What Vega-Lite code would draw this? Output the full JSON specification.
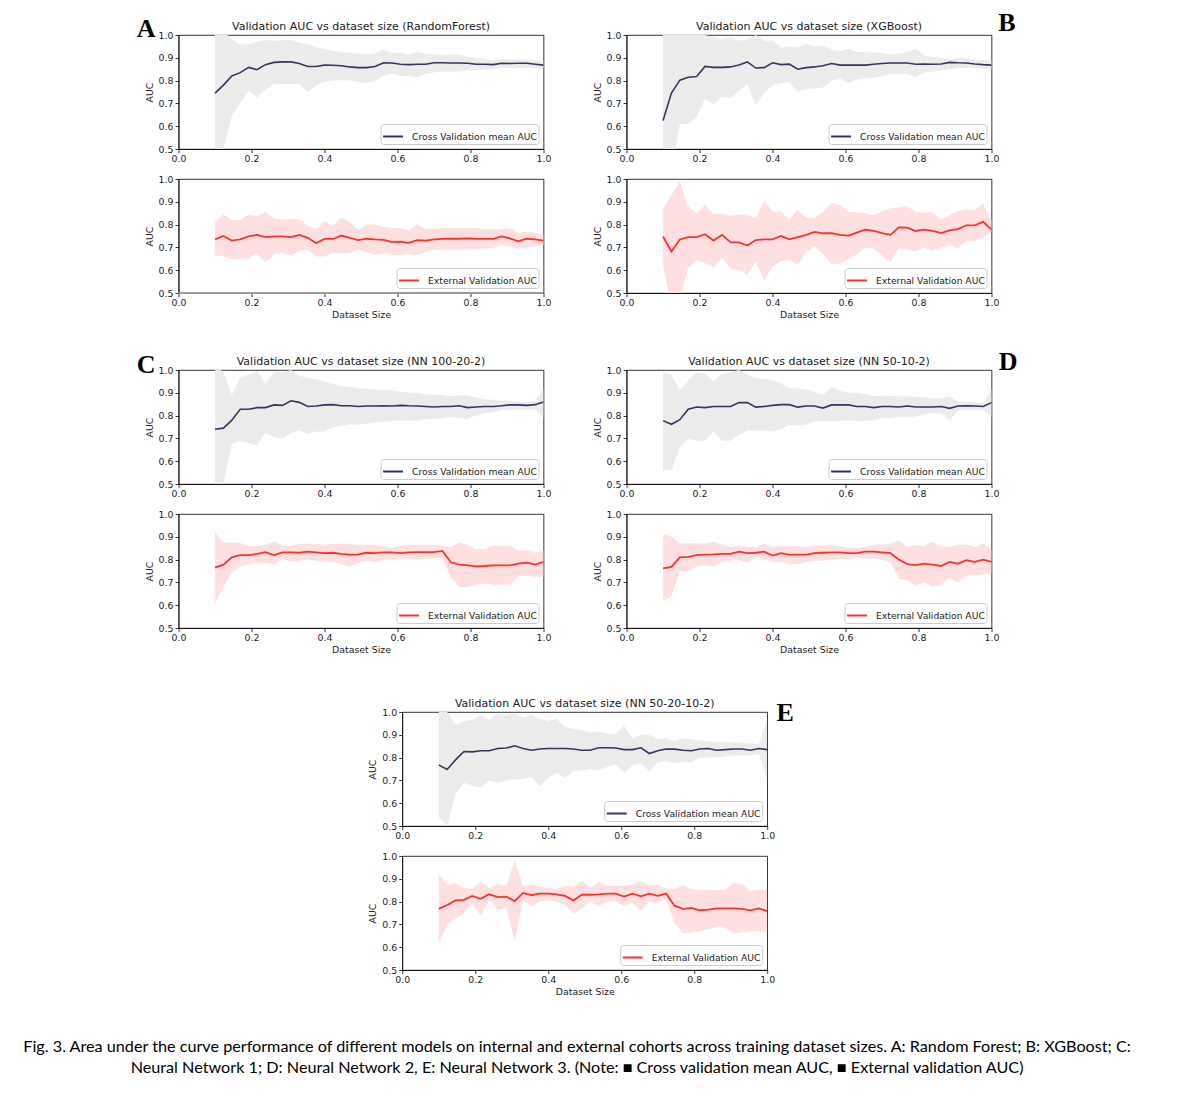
{
"$schema":"https://vega.github.io/schema/vega-lite/v6.json",
"padding":{"left":21.5,"top":10,"right":5,"bottom":5},
"background":"white",
"datasets":{"d":[
{"p":"Ac","x":0.1,"m":0.745,"l":0.38,"h":1.1},{"p":"Ac","x":0.123,"m":0.78,"l":0.5,"h":1.02},{"p":"Ac","x":0.146,"m":0.82,"l":0.645,"h":0.98},{"p":"Ac","x":0.169,"m":0.835,"l":0.7,"h":0.958},{"p":"Ac","x":0.192,"m":0.858,"l":0.755,"h":0.96},{"p":"Ac","x":0.215,"m":0.848,"l":0.725,"h":0.97},{"p":"Ac","x":0.238,"m":0.87,"l":0.76,"h":0.978},{"p":"Ac","x":0.262,"m":0.88,"l":0.785,"h":0.975},{"p":"Ac","x":0.285,"m":0.882,"l":0.785,"h":0.978},{"p":"Ac","x":0.308,"m":0.882,"l":0.785,"h":0.978},
{"p":"Ac","x":0.331,"m":0.875,"l":0.785,"h":0.965},{"p":"Ac","x":0.354,"m":0.862,"l":0.75,"h":0.96},{"p":"Ac","x":0.377,"m":0.862,"l":0.78,"h":0.945},{"p":"Ac","x":0.4,"m":0.868,"l":0.795,"h":0.94},{"p":"Ac","x":0.423,"m":0.867,"l":0.8,"h":0.93},{"p":"Ac","x":0.446,"m":0.865,"l":0.802,"h":0.925},{"p":"Ac","x":0.469,"m":0.86,"l":0.8,"h":0.92},{"p":"Ac","x":0.492,"m":0.857,"l":0.795,"h":0.918},{"p":"Ac","x":0.515,"m":0.857,"l":0.79,"h":0.915},{"p":"Ac","x":0.538,"m":0.862,"l":0.8,"h":0.92},
{"p":"Ac","x":0.562,"m":0.878,"l":0.82,"h":0.935},{"p":"Ac","x":0.585,"m":0.877,"l":0.83,"h":0.92},{"p":"Ac","x":0.608,"m":0.872,"l":0.82,"h":0.922},{"p":"Ac","x":0.631,"m":0.87,"l":0.82,"h":0.915},{"p":"Ac","x":0.654,"m":0.872,"l":0.815,"h":0.925},{"p":"Ac","x":0.677,"m":0.872,"l":0.83,"h":0.918},{"p":"Ac","x":0.7,"m":0.878,"l":0.835,"h":0.915},{"p":"Ac","x":0.723,"m":0.878,"l":0.84,"h":0.912},{"p":"Ac","x":0.746,"m":0.877,"l":0.84,"h":0.915},{"p":"Ac","x":0.769,"m":0.877,"l":0.84,"h":0.915},
{"p":"Ac","x":0.792,"m":0.876,"l":0.845,"h":0.905},{"p":"Ac","x":0.815,"m":0.872,"l":0.845,"h":0.9},{"p":"Ac","x":0.838,"m":0.872,"l":0.848,"h":0.895},{"p":"Ac","x":0.862,"m":0.87,"l":0.85,"h":0.89},{"p":"Ac","x":0.885,"m":0.876,"l":0.855,"h":0.895},{"p":"Ac","x":0.908,"m":0.875,"l":0.855,"h":0.893},{"p":"Ac","x":0.931,"m":0.876,"l":0.855,"h":0.893},{"p":"Ac","x":0.954,"m":0.876,"l":0.855,"h":0.89},{"p":"Ac","x":0.977,"m":0.872,"l":0.855,"h":0.888},{"p":"Ac","x":1,"m":0.868,"l":0.852,"h":0.885},

{"p":"Ae","x":0.1,"m":0.735,"l":0.665,"h":0.81},{"p":"Ae","x":0.123,"m":0.75,"l":0.66,"h":0.845},{"p":"Ae","x":0.146,"m":0.73,"l":0.648,"h":0.82},{"p":"Ae","x":0.169,"m":0.735,"l":0.65,"h":0.82},{"p":"Ae","x":0.192,"m":0.748,"l":0.652,"h":0.845},{"p":"Ae","x":0.215,"m":0.755,"l":0.675,"h":0.835},{"p":"Ae","x":0.238,"m":0.745,"l":0.632,"h":0.855},{"p":"Ae","x":0.262,"m":0.748,"l":0.672,"h":0.825},{"p":"Ae","x":0.285,"m":0.748,"l":0.675,"h":0.822},{"p":"Ae","x":0.308,"m":0.745,"l":0.665,"h":0.825},
{"p":"Ae","x":0.331,"m":0.755,"l":0.685,"h":0.825},{"p":"Ae","x":0.354,"m":0.742,"l":0.688,"h":0.795},{"p":"Ae","x":0.377,"m":0.718,"l":0.66,"h":0.78},{"p":"Ae","x":0.4,"m":0.737,"l":0.66,"h":0.815},{"p":"Ae","x":0.423,"m":0.737,"l":0.678,"h":0.795},{"p":"Ae","x":0.446,"m":0.752,"l":0.672,"h":0.83},{"p":"Ae","x":0.469,"m":0.742,"l":0.675,"h":0.81},{"p":"Ae","x":0.492,"m":0.732,"l":0.69,"h":0.775},{"p":"Ae","x":0.515,"m":0.738,"l":0.68,"h":0.8},{"p":"Ae","x":0.538,"m":0.735,"l":0.668,"h":0.8},
{"p":"Ae","x":0.562,"m":0.733,"l":0.672,"h":0.79},{"p":"Ae","x":0.585,"m":0.723,"l":0.667,"h":0.785},{"p":"Ae","x":0.608,"m":0.725,"l":0.665,"h":0.783},{"p":"Ae","x":0.631,"m":0.72,"l":0.67,"h":0.775},{"p":"Ae","x":0.654,"m":0.732,"l":0.665,"h":0.8},{"p":"Ae","x":0.677,"m":0.73,"l":0.68,"h":0.78},{"p":"Ae","x":0.7,"m":0.735,"l":0.69,"h":0.782},{"p":"Ae","x":0.723,"m":0.737,"l":0.69,"h":0.785},{"p":"Ae","x":0.746,"m":0.738,"l":0.69,"h":0.785},{"p":"Ae","x":0.769,"m":0.738,"l":0.69,"h":0.785},
{"p":"Ae","x":0.792,"m":0.74,"l":0.69,"h":0.785},{"p":"Ae","x":0.815,"m":0.738,"l":0.692,"h":0.785},{"p":"Ae","x":0.838,"m":0.737,"l":0.695,"h":0.778},{"p":"Ae","x":0.862,"m":0.737,"l":0.697,"h":0.78},{"p":"Ae","x":0.885,"m":0.748,"l":0.712,"h":0.78},{"p":"Ae","x":0.908,"m":0.74,"l":0.703,"h":0.785},{"p":"Ae","x":0.931,"m":0.727,"l":0.693,"h":0.762},{"p":"Ae","x":0.954,"m":0.738,"l":0.702,"h":0.77},{"p":"Ae","x":0.977,"m":0.735,"l":0.705,"h":0.765},{"p":"Ae","x":1,"m":0.73,"l":0.71,"h":0.755},

{"p":"Bc","x":0.1,"m":0.625,"l":0.3,"h":1.1},{"p":"Bc","x":0.123,"m":0.745,"l":0.4,"h":1.05},{"p":"Bc","x":0.146,"m":0.802,"l":0.61,"h":1.02},{"p":"Bc","x":0.169,"m":0.815,"l":0.61,"h":1.0},{"p":"Bc","x":0.192,"m":0.818,"l":0.64,"h":1.0},{"p":"Bc","x":0.215,"m":0.862,"l":0.72,"h":1.0},{"p":"Bc","x":0.238,"m":0.858,"l":0.695,"h":0.99},{"p":"Bc","x":0.262,"m":0.858,"l":0.73,"h":0.98},{"p":"Bc","x":0.285,"m":0.86,"l":0.725,"h":0.99},{"p":"Bc","x":0.308,"m":0.868,"l":0.755,"h":0.975},
{"p":"Bc","x":0.331,"m":0.882,"l":0.785,"h":0.98},{"p":"Bc","x":0.354,"m":0.855,"l":0.69,"h":1.0},{"p":"Bc","x":0.377,"m":0.857,"l":0.745,"h":0.975},{"p":"Bc","x":0.4,"m":0.878,"l":0.78,"h":0.975},{"p":"Bc","x":0.423,"m":0.87,"l":0.79,"h":0.945},{"p":"Bc","x":0.446,"m":0.872,"l":0.795,"h":0.95},{"p":"Bc","x":0.469,"m":0.85,"l":0.75,"h":0.945},{"p":"Bc","x":0.492,"m":0.857,"l":0.765,"h":0.96},{"p":"Bc","x":0.515,"m":0.86,"l":0.765,"h":0.95},{"p":"Bc","x":0.538,"m":0.865,"l":0.77,"h":0.955},
{"p":"Bc","x":0.562,"m":0.875,"l":0.8,"h":0.935},{"p":"Bc","x":0.585,"m":0.868,"l":0.81,"h":0.93},{"p":"Bc","x":0.608,"m":0.868,"l":0.79,"h":0.94},{"p":"Bc","x":0.631,"m":0.868,"l":0.805,"h":0.925},{"p":"Bc","x":0.654,"m":0.868,"l":0.81,"h":0.925},{"p":"Bc","x":0.677,"m":0.872,"l":0.812,"h":0.922},{"p":"Bc","x":0.7,"m":0.875,"l":0.82,"h":0.922},{"p":"Bc","x":0.723,"m":0.877,"l":0.83,"h":0.915},{"p":"Bc","x":0.746,"m":0.877,"l":0.83,"h":0.92},{"p":"Bc","x":0.769,"m":0.877,"l":0.83,"h":0.925},
{"p":"Bc","x":0.792,"m":0.872,"l":0.815,"h":0.94},{"p":"Bc","x":0.815,"m":0.873,"l":0.835,"h":0.91},{"p":"Bc","x":0.838,"m":0.872,"l":0.84,"h":0.905},{"p":"Bc","x":0.862,"m":0.873,"l":0.845,"h":0.9},{"p":"Bc","x":0.885,"m":0.88,"l":0.85,"h":0.895},{"p":"Bc","x":0.908,"m":0.878,"l":0.855,"h":0.9},{"p":"Bc","x":0.931,"m":0.877,"l":0.855,"h":0.897},{"p":"Bc","x":0.954,"m":0.873,"l":0.855,"h":0.892},{"p":"Bc","x":0.977,"m":0.87,"l":0.852,"h":0.89},{"p":"Bc","x":1,"m":0.868,"l":0.848,"h":0.888},

{"p":"Be","x":0.1,"m":0.748,"l":0.62,"h":0.87},{"p":"Be","x":0.123,"m":0.682,"l":0.45,"h":0.93},{"p":"Be","x":0.146,"m":0.735,"l":0.48,"h":0.99},{"p":"Be","x":0.169,"m":0.745,"l":0.61,"h":0.88},{"p":"Be","x":0.192,"m":0.745,"l":0.645,"h":0.85},{"p":"Be","x":0.215,"m":0.758,"l":0.63,"h":0.885},{"p":"Be","x":0.238,"m":0.73,"l":0.612,"h":0.845},{"p":"Be","x":0.262,"m":0.755,"l":0.655,"h":0.848},{"p":"Be","x":0.285,"m":0.722,"l":0.605,"h":0.838},{"p":"Be","x":0.308,"m":0.722,"l":0.6,"h":0.845},
{"p":"Be","x":0.331,"m":0.708,"l":0.58,"h":0.84},{"p":"Be","x":0.354,"m":0.732,"l":0.638,"h":0.83},{"p":"Be","x":0.377,"m":0.735,"l":0.555,"h":0.905},{"p":"Be","x":0.4,"m":0.735,"l":0.615,"h":0.857},{"p":"Be","x":0.423,"m":0.75,"l":0.64,"h":0.857},{"p":"Be","x":0.446,"m":0.735,"l":0.645,"h":0.823},{"p":"Be","x":0.469,"m":0.745,"l":0.625,"h":0.865},{"p":"Be","x":0.492,"m":0.755,"l":0.68,"h":0.83},{"p":"Be","x":0.515,"m":0.768,"l":0.705,"h":0.83},{"p":"Be","x":0.538,"m":0.762,"l":0.67,"h":0.855},
{"p":"Be","x":0.562,"m":0.763,"l":0.628,"h":0.895},{"p":"Be","x":0.585,"m":0.755,"l":0.628,"h":0.885},{"p":"Be","x":0.608,"m":0.752,"l":0.648,"h":0.855},{"p":"Be","x":0.631,"m":0.765,"l":0.67,"h":0.853},{"p":"Be","x":0.654,"m":0.778,"l":0.7,"h":0.85},{"p":"Be","x":0.677,"m":0.772,"l":0.695,"h":0.84},{"p":"Be","x":0.7,"m":0.763,"l":0.665,"h":0.86},{"p":"Be","x":0.723,"m":0.755,"l":0.635,"h":0.872},{"p":"Be","x":0.746,"m":0.788,"l":0.695,"h":0.875},{"p":"Be","x":0.769,"m":0.787,"l":0.69,"h":0.88},
{"p":"Be","x":0.792,"m":0.772,"l":0.683,"h":0.858},{"p":"Be","x":0.815,"m":0.778,"l":0.7,"h":0.852},{"p":"Be","x":0.838,"m":0.772,"l":0.686,"h":0.855},{"p":"Be","x":0.862,"m":0.763,"l":0.7,"h":0.823},{"p":"Be","x":0.885,"m":0.775,"l":0.71,"h":0.84},{"p":"Be","x":0.908,"m":0.78,"l":0.695,"h":0.86},{"p":"Be","x":0.931,"m":0.797,"l":0.728,"h":0.865},{"p":"Be","x":0.954,"m":0.797,"l":0.725,"h":0.865},{"p":"Be","x":0.977,"m":0.812,"l":0.745,"h":0.89},{"p":"Be","x":1,"m":0.778,"l":0.77,"h":0.82},

{"p":"Cc","x":0.1,"m":0.74,"l":0.45,"h":1.02},{"p":"Cc","x":0.123,"m":0.745,"l":0.5,"h":0.99},{"p":"Cc","x":0.146,"m":0.78,"l":0.675,"h":0.89},{"p":"Cc","x":0.169,"m":0.828,"l":0.69,"h":0.965},{"p":"Cc","x":0.192,"m":0.828,"l":0.68,"h":0.98},{"p":"Cc","x":0.215,"m":0.835,"l":0.67,"h":0.995},{"p":"Cc","x":0.238,"m":0.835,"l":0.725,"h":0.94},{"p":"Cc","x":0.262,"m":0.847,"l":0.705,"h":0.99},{"p":"Cc","x":0.285,"m":0.845,"l":0.7,"h":0.99},{"p":"Cc","x":0.308,"m":0.865,"l":0.725,"h":1.0},
{"p":"Cc","x":0.331,"m":0.858,"l":0.735,"h":0.975},{"p":"Cc","x":0.354,"m":0.84,"l":0.72,"h":0.965},{"p":"Cc","x":0.377,"m":0.842,"l":0.73,"h":0.96},{"p":"Cc","x":0.4,"m":0.847,"l":0.73,"h":0.95},{"p":"Cc","x":0.423,"m":0.848,"l":0.75,"h":0.94},{"p":"Cc","x":0.446,"m":0.843,"l":0.755,"h":0.93},{"p":"Cc","x":0.469,"m":0.843,"l":0.762,"h":0.925},{"p":"Cc","x":0.492,"m":0.84,"l":0.76,"h":0.92},{"p":"Cc","x":0.515,"m":0.842,"l":0.765,"h":0.918},{"p":"Cc","x":0.538,"m":0.842,"l":0.77,"h":0.915},
{"p":"Cc","x":0.562,"m":0.843,"l":0.772,"h":0.913},{"p":"Cc","x":0.585,"m":0.842,"l":0.775,"h":0.91},{"p":"Cc","x":0.608,"m":0.845,"l":0.78,"h":0.905},{"p":"Cc","x":0.631,"m":0.843,"l":0.775,"h":0.9},{"p":"Cc","x":0.654,"m":0.842,"l":0.78,"h":0.9},{"p":"Cc","x":0.677,"m":0.84,"l":0.785,"h":0.893},{"p":"Cc","x":0.7,"m":0.838,"l":0.785,"h":0.893},{"p":"Cc","x":0.723,"m":0.84,"l":0.79,"h":0.89},{"p":"Cc","x":0.746,"m":0.84,"l":0.795,"h":0.885},{"p":"Cc","x":0.769,"m":0.843,"l":0.788,"h":0.89},
{"p":"Cc","x":0.792,"m":0.835,"l":0.785,"h":0.888},{"p":"Cc","x":0.815,"m":0.838,"l":0.8,"h":0.88},{"p":"Cc","x":0.838,"m":0.84,"l":0.81,"h":0.872},{"p":"Cc","x":0.862,"m":0.84,"l":0.815,"h":0.87},{"p":"Cc","x":0.885,"m":0.843,"l":0.825,"h":0.865},{"p":"Cc","x":0.908,"m":0.847,"l":0.825,"h":0.865},{"p":"Cc","x":0.931,"m":0.847,"l":0.828,"h":0.862},{"p":"Cc","x":0.954,"m":0.845,"l":0.828,"h":0.86},{"p":"Cc","x":0.977,"m":0.848,"l":0.828,"h":0.865},{"p":"Cc","x":1,"m":0.86,"l":0.79,"h":0.915},

{"p":"Ce","x":0.1,"m":0.765,"l":0.61,"h":0.92},{"p":"Ce","x":0.123,"m":0.778,"l":0.68,"h":0.875},{"p":"Ce","x":0.146,"m":0.81,"l":0.745,"h":0.875},{"p":"Ce","x":0.169,"m":0.82,"l":0.77,"h":0.873},{"p":"Ce","x":0.192,"m":0.82,"l":0.78,"h":0.86},{"p":"Ce","x":0.215,"m":0.825,"l":0.785,"h":0.86},{"p":"Ce","x":0.238,"m":0.833,"l":0.785,"h":0.865},{"p":"Ce","x":0.262,"m":0.82,"l":0.78,"h":0.88},{"p":"Ce","x":0.285,"m":0.832,"l":0.805,"h":0.86},{"p":"Ce","x":0.308,"m":0.832,"l":0.79,"h":0.86},
{"p":"Ce","x":0.331,"m":0.83,"l":0.795,"h":0.87},{"p":"Ce","x":0.354,"m":0.835,"l":0.8,"h":0.87},{"p":"Ce","x":0.377,"m":0.832,"l":0.795,"h":0.87},{"p":"Ce","x":0.4,"m":0.828,"l":0.79,"h":0.865},{"p":"Ce","x":0.423,"m":0.83,"l":0.79,"h":0.87},{"p":"Ce","x":0.446,"m":0.825,"l":0.78,"h":0.87},{"p":"Ce","x":0.469,"m":0.822,"l":0.77,"h":0.87},{"p":"Ce","x":0.492,"m":0.823,"l":0.785,"h":0.865},{"p":"Ce","x":0.515,"m":0.83,"l":0.795,"h":0.865},{"p":"Ce","x":0.538,"m":0.828,"l":0.79,"h":0.865},
{"p":"Ce","x":0.562,"m":0.832,"l":0.8,"h":0.86},{"p":"Ce","x":0.585,"m":0.832,"l":0.8,"h":0.85},{"p":"Ce","x":0.608,"m":0.828,"l":0.805,"h":0.862},{"p":"Ce","x":0.631,"m":0.832,"l":0.805,"h":0.865},{"p":"Ce","x":0.654,"m":0.833,"l":0.8,"h":0.865},{"p":"Ce","x":0.677,"m":0.833,"l":0.805,"h":0.865},{"p":"Ce","x":0.7,"m":0.833,"l":0.805,"h":0.865},{"p":"Ce","x":0.723,"m":0.838,"l":0.81,"h":0.862},{"p":"Ce","x":0.746,"m":0.788,"l":0.72,"h":0.855},{"p":"Ce","x":0.769,"m":0.778,"l":0.68,"h":0.875},
{"p":"Ce","x":0.792,"m":0.775,"l":0.68,"h":0.865},{"p":"Ce","x":0.815,"m":0.77,"l":0.69,"h":0.845},{"p":"Ce","x":0.838,"m":0.772,"l":0.695,"h":0.845},{"p":"Ce","x":0.862,"m":0.775,"l":0.69,"h":0.862},{"p":"Ce","x":0.885,"m":0.775,"l":0.69,"h":0.86},{"p":"Ce","x":0.908,"m":0.775,"l":0.69,"h":0.862},{"p":"Ce","x":0.931,"m":0.782,"l":0.725,"h":0.84},{"p":"Ce","x":0.954,"m":0.787,"l":0.73,"h":0.84},{"p":"Ce","x":0.977,"m":0.778,"l":0.725,"h":0.83},{"p":"Ce","x":1,"m":0.79,"l":0.725,"h":0.84},

{"p":"Dc","x":0.1,"m":0.778,"l":0.56,"h":0.99},{"p":"Dc","x":0.123,"m":0.762,"l":0.56,"h":0.98},{"p":"Dc","x":0.146,"m":0.782,"l":0.66,"h":0.91},{"p":"Dc","x":0.169,"m":0.828,"l":0.7,"h":0.955},{"p":"Dc","x":0.192,"m":0.838,"l":0.69,"h":0.99},{"p":"Dc","x":0.215,"m":0.835,"l":0.69,"h":0.985},{"p":"Dc","x":0.238,"m":0.84,"l":0.73,"h":0.95},{"p":"Dc","x":0.262,"m":0.84,"l":0.69,"h":0.985},{"p":"Dc","x":0.285,"m":0.84,"l":0.69,"h":0.99},{"p":"Dc","x":0.308,"m":0.857,"l":0.715,"h":1.0},
{"p":"Dc","x":0.331,"m":0.857,"l":0.735,"h":0.98},{"p":"Dc","x":0.354,"m":0.837,"l":0.735,"h":0.965},{"p":"Dc","x":0.377,"m":0.84,"l":0.735,"h":0.96},{"p":"Dc","x":0.4,"m":0.845,"l":0.73,"h":0.955},{"p":"Dc","x":0.423,"m":0.848,"l":0.74,"h":0.94},{"p":"Dc","x":0.446,"m":0.848,"l":0.76,"h":0.92},{"p":"Dc","x":0.469,"m":0.837,"l":0.755,"h":0.92},{"p":"Dc","x":0.492,"m":0.842,"l":0.76,"h":0.915},{"p":"Dc","x":0.515,"m":0.842,"l":0.775,"h":0.905},{"p":"Dc","x":0.538,"m":0.833,"l":0.775,"h":0.89},
{"p":"Dc","x":0.562,"m":0.847,"l":0.775,"h":0.925},{"p":"Dc","x":0.585,"m":0.847,"l":0.775,"h":0.91},{"p":"Dc","x":0.608,"m":0.847,"l":0.78,"h":0.9},{"p":"Dc","x":0.631,"m":0.84,"l":0.775,"h":0.9},{"p":"Dc","x":0.654,"m":0.84,"l":0.775,"h":0.895},{"p":"Dc","x":0.677,"m":0.835,"l":0.78,"h":0.885},{"p":"Dc","x":0.7,"m":0.84,"l":0.79,"h":0.887},{"p":"Dc","x":0.723,"m":0.84,"l":0.79,"h":0.887},{"p":"Dc","x":0.746,"m":0.838,"l":0.795,"h":0.885},{"p":"Dc","x":0.769,"m":0.842,"l":0.795,"h":0.885},
{"p":"Dc","x":0.792,"m":0.838,"l":0.795,"h":0.882},{"p":"Dc","x":0.815,"m":0.838,"l":0.805,"h":0.88},{"p":"Dc","x":0.838,"m":0.838,"l":0.81,"h":0.875},{"p":"Dc","x":0.862,"m":0.84,"l":0.81,"h":0.875},{"p":"Dc","x":0.885,"m":0.832,"l":0.78,"h":0.885},{"p":"Dc","x":0.908,"m":0.842,"l":0.82,"h":0.862},{"p":"Dc","x":0.931,"m":0.843,"l":0.825,"h":0.86},{"p":"Dc","x":0.954,"m":0.842,"l":0.825,"h":0.86},{"p":"Dc","x":0.977,"m":0.84,"l":0.825,"h":0.855},{"p":"Dc","x":1,"m":0.857,"l":0.795,"h":0.915},

{"p":"De","x":0.1,"m":0.762,"l":0.615,"h":0.91},{"p":"De","x":0.123,"m":0.768,"l":0.64,"h":0.9},{"p":"De","x":0.146,"m":0.81,"l":0.75,"h":0.87},{"p":"De","x":0.169,"m":0.812,"l":0.75,"h":0.872},{"p":"De","x":0.192,"m":0.82,"l":0.77,"h":0.872},{"p":"De","x":0.215,"m":0.822,"l":0.775,"h":0.87},{"p":"De","x":0.238,"m":0.823,"l":0.77,"h":0.878},{"p":"De","x":0.262,"m":0.825,"l":0.79,"h":0.865},{"p":"De","x":0.285,"m":0.825,"l":0.795,"h":0.855},{"p":"De","x":0.308,"m":0.835,"l":0.8,"h":0.862},
{"p":"De","x":0.331,"m":0.828,"l":0.785,"h":0.855},{"p":"De","x":0.354,"m":0.83,"l":0.81,"h":0.855},{"p":"De","x":0.377,"m":0.835,"l":0.8,"h":0.87},{"p":"De","x":0.4,"m":0.818,"l":0.79,"h":0.855},{"p":"De","x":0.423,"m":0.828,"l":0.79,"h":0.862},{"p":"De","x":0.446,"m":0.822,"l":0.78,"h":0.86},{"p":"De","x":0.469,"m":0.822,"l":0.78,"h":0.86},{"p":"De","x":0.492,"m":0.822,"l":0.79,"h":0.855},{"p":"De","x":0.515,"m":0.828,"l":0.795,"h":0.862},{"p":"De","x":0.538,"m":0.83,"l":0.795,"h":0.862},
{"p":"De","x":0.562,"m":0.832,"l":0.8,"h":0.865},{"p":"De","x":0.585,"m":0.832,"l":0.805,"h":0.86},{"p":"De","x":0.608,"m":0.828,"l":0.8,"h":0.852},{"p":"De","x":0.631,"m":0.828,"l":0.81,"h":0.852},{"p":"De","x":0.654,"m":0.835,"l":0.805,"h":0.855},{"p":"De","x":0.677,"m":0.835,"l":0.805,"h":0.865},{"p":"De","x":0.7,"m":0.832,"l":0.8,"h":0.865},{"p":"De","x":0.723,"m":0.828,"l":0.79,"h":0.868},{"p":"De","x":0.746,"m":0.8,"l":0.715,"h":0.885},{"p":"De","x":0.769,"m":0.78,"l":0.71,"h":0.855},
{"p":"De","x":0.792,"m":0.776,"l":0.685,"h":0.865},{"p":"De","x":0.815,"m":0.782,"l":0.7,"h":0.86},{"p":"De","x":0.838,"m":0.778,"l":0.68,"h":0.878},{"p":"De","x":0.862,"m":0.772,"l":0.69,"h":0.858},{"p":"De","x":0.885,"m":0.79,"l":0.72,"h":0.855},{"p":"De","x":0.908,"m":0.782,"l":0.7,"h":0.865},{"p":"De","x":0.931,"m":0.797,"l":0.73,"h":0.865},{"p":"De","x":0.954,"m":0.79,"l":0.73,"h":0.855},{"p":"De","x":0.977,"m":0.8,"l":0.735,"h":0.872},{"p":"De","x":1,"m":0.79,"l":0.74,"h":0.845},

{"p":"Ec","x":0.1,"m":0.768,"l":0.54,"h":1.02},{"p":"Ec","x":0.123,"m":0.748,"l":0.5,"h":1.0},{"p":"Ec","x":0.146,"m":0.79,"l":0.64,"h":0.945},{"p":"Ec","x":0.169,"m":0.827,"l":0.69,"h":0.96},{"p":"Ec","x":0.192,"m":0.825,"l":0.675,"h":0.965},{"p":"Ec","x":0.215,"m":0.83,"l":0.668,"h":0.985},{"p":"Ec","x":0.238,"m":0.83,"l":0.7,"h":0.965},{"p":"Ec","x":0.262,"m":0.84,"l":0.69,"h":0.995},{"p":"Ec","x":0.285,"m":0.842,"l":0.7,"h":0.985},{"p":"Ec","x":0.308,"m":0.852,"l":0.705,"h":0.995},
{"p":"Ec","x":0.331,"m":0.84,"l":0.705,"h":0.975},{"p":"Ec","x":0.354,"m":0.832,"l":0.715,"h":0.99},{"p":"Ec","x":0.377,"m":0.838,"l":0.675,"h":0.97},{"p":"Ec","x":0.4,"m":0.84,"l":0.71,"h":0.96},{"p":"Ec","x":0.423,"m":0.84,"l":0.735,"h":0.97},{"p":"Ec","x":0.446,"m":0.84,"l":0.71,"h":0.935},{"p":"Ec","x":0.469,"m":0.838,"l":0.74,"h":0.925},{"p":"Ec","x":0.492,"m":0.832,"l":0.745,"h":0.92},{"p":"Ec","x":0.515,"m":0.832,"l":0.75,"h":0.91},{"p":"Ec","x":0.538,"m":0.843,"l":0.745,"h":0.915},
{"p":"Ec","x":0.562,"m":0.843,"l":0.76,"h":0.905},{"p":"Ec","x":0.585,"m":0.842,"l":0.77,"h":0.905},{"p":"Ec","x":0.608,"m":0.835,"l":0.735,"h":0.94},{"p":"Ec","x":0.631,"m":0.835,"l":0.765,"h":0.885},{"p":"Ec","x":0.654,"m":0.843,"l":0.775,"h":0.9},{"p":"Ec","x":0.677,"m":0.818,"l":0.74,"h":0.9},{"p":"Ec","x":0.7,"m":0.83,"l":0.78,"h":0.88},{"p":"Ec","x":0.723,"m":0.838,"l":0.785,"h":0.885},{"p":"Ec","x":0.746,"m":0.837,"l":0.775,"h":0.87},{"p":"Ec","x":0.769,"m":0.832,"l":0.78,"h":0.885},
{"p":"Ec","x":0.792,"m":0.83,"l":0.78,"h":0.88},{"p":"Ec","x":0.815,"m":0.838,"l":0.8,"h":0.875},{"p":"Ec","x":0.838,"m":0.84,"l":0.8,"h":0.872},{"p":"Ec","x":0.862,"m":0.832,"l":0.8,"h":0.87},{"p":"Ec","x":0.885,"m":0.835,"l":0.805,"h":0.868},{"p":"Ec","x":0.908,"m":0.838,"l":0.81,"h":0.868},{"p":"Ec","x":0.931,"m":0.838,"l":0.81,"h":0.865},{"p":"Ec","x":0.954,"m":0.832,"l":0.81,"h":0.862},{"p":"Ec","x":0.977,"m":0.84,"l":0.815,"h":0.86},{"p":"Ec","x":1,"m":0.835,"l":0.7,"h":0.97},

{"p":"Ee","x":0.1,"m":0.768,"l":0.615,"h":0.92},{"p":"Ee","x":0.123,"m":0.785,"l":0.7,"h":0.875},{"p":"Ee","x":0.146,"m":0.805,"l":0.725,"h":0.88},{"p":"Ee","x":0.169,"m":0.808,"l":0.75,"h":0.86},{"p":"Ee","x":0.192,"m":0.825,"l":0.79,"h":0.855},{"p":"Ee","x":0.215,"m":0.812,"l":0.74,"h":0.888},{"p":"Ee","x":0.238,"m":0.832,"l":0.805,"h":0.86},{"p":"Ee","x":0.262,"m":0.82,"l":0.765,"h":0.878},{"p":"Ee","x":0.285,"m":0.822,"l":0.775,"h":0.87},{"p":"Ee","x":0.308,"m":0.802,"l":0.625,"h":0.98},
{"p":"Ee","x":0.331,"m":0.838,"l":0.805,"h":0.87},{"p":"Ee","x":0.354,"m":0.828,"l":0.778,"h":0.875},{"p":"Ee","x":0.377,"m":0.835,"l":0.8,"h":0.865},{"p":"Ee","x":0.4,"m":0.835,"l":0.805,"h":0.86},{"p":"Ee","x":0.423,"m":0.832,"l":0.8,"h":0.855},{"p":"Ee","x":0.446,"m":0.825,"l":0.785,"h":0.87},{"p":"Ee","x":0.469,"m":0.805,"l":0.748,"h":0.865},{"p":"Ee","x":0.492,"m":0.83,"l":0.77,"h":0.89},{"p":"Ee","x":0.515,"m":0.83,"l":0.8,"h":0.86},{"p":"Ee","x":0.538,"m":0.832,"l":0.78,"h":0.885},
{"p":"Ee","x":0.562,"m":0.835,"l":0.8,"h":0.87},{"p":"Ee","x":0.585,"m":0.835,"l":0.8,"h":0.868},{"p":"Ee","x":0.608,"m":0.822,"l":0.78,"h":0.868},{"p":"Ee","x":0.631,"m":0.835,"l":0.795,"h":0.875},{"p":"Ee","x":0.654,"m":0.823,"l":0.76,"h":0.89},{"p":"Ee","x":0.677,"m":0.835,"l":0.8,"h":0.87},{"p":"Ee","x":0.7,"m":0.825,"l":0.795,"h":0.875},{"p":"Ee","x":0.723,"m":0.835,"l":0.81,"h":0.858},{"p":"Ee","x":0.746,"m":0.782,"l":0.705,"h":0.855},{"p":"Ee","x":0.769,"m":0.768,"l":0.66,"h":0.872},
{"p":"Ee","x":0.792,"m":0.772,"l":0.665,"h":0.855},{"p":"Ee","x":0.815,"m":0.762,"l":0.67,"h":0.852},{"p":"Ee","x":0.838,"m":0.765,"l":0.68,"h":0.852},{"p":"Ee","x":0.862,"m":0.77,"l":0.69,"h":0.85},{"p":"Ee","x":0.885,"m":0.77,"l":0.685,"h":0.853},{"p":"Ee","x":0.908,"m":0.77,"l":0.66,"h":0.882},{"p":"Ee","x":0.931,"m":0.768,"l":0.665,"h":0.875},{"p":"Ee","x":0.954,"m":0.762,"l":0.67,"h":0.848},{"p":"Ee","x":0.977,"m":0.77,"l":0.67,"h":0.852},{"p":"Ee","x":1,"m":0.758,"l":0.665,"h":0.852}
]},
"title":{"text":["Fig. 3. Area under the curve performance of different models on internal and external cohorts across training dataset sizes. A: Random Forest; B: XGBoost; C:","Neural Network 1; D: Neural Network 2, E: Neural Network 3. (Note: ■ Cross validation mean AUC, ■ External validation AUC)"],"orient":"bottom","anchor":"middle","font":"Lato","fontSize":16.2,"fontWeight":"normal","color":"black","lineHeight":21,"offset":42},
"spacing":42,"center":true,
"resolve":{"scale":{"color":"independent"},"legend":{"color":"independent"}},
"vconcat":[
{"spacing":29,"resolve":{"scale":{"color":"independent"},"legend":{"color":"independent"}},
 "vconcat":[
 {"hconcat":[
  {"title":{"text":"A","orient":"left","anchor":"end","angle":0,"align":"right","baseline":"top","font":"Liberation Serif","fontWeight":"bold","fontSize":26,"color":"black","offset":0,"dx":30.5,"dy":-4.3},
   "spacing":9,"resolve":{"scale":{"color":"independent"},"legend":{"color":"independent"}},"vconcat":[
   {"width":365,"height":114,"title":"Validation AUC vs dataset size (RandomForest)","layer":[
    {"data":{"name":"d"},"transform":[{"filter":"datum.p=='Ac'"}],"mark":{"type":"area","clip":true,"color":"#ececec"},"encoding":{"x":{"field":"x","type":"quantitative","scale":{"domain":[0,1],"nice":false},"axis":{"values":[0,0.2,0.4,0.6,0.8,1],"tickCount":6,"format":".1f","title":null}},"y":{"field":"l","type":"quantitative","scale":{"domain":[0.5,1],"nice":false,"zero":false},"axis":{"values":[0.5,0.6,0.7,0.8,0.9,1],"tickCount":6,"format":".1f","title":"AUC"}},"y2":{"field":"h"}}},
    {"data":{"name":"d"},"transform":[{"filter":"datum.p=='Ac'"}],"mark":{"type":"line","clip":true,"strokeWidth":1.6},"encoding":{"x":{"field":"x","type":"quantitative"},"y":{"field":"m","type":"quantitative"},"color":{"datum":"Cross Validation mean AUC","scale":{"range":["#35355f"]},"legend":{"title":null}}}}
   ]},
   {"width":365,"height":114,"layer":[
    {"data":{"name":"d"},"transform":[{"filter":"datum.p=='Ae'"}],"mark":{"type":"area","clip":true,"color":"#ffe0e0"},"encoding":{"x":{"field":"x","type":"quantitative","scale":{"domain":[0,1],"nice":false},"axis":{"values":[0,0.2,0.4,0.6,0.8,1],"tickCount":6,"format":".1f","title":"Dataset Size"}},"y":{"field":"l","type":"quantitative","scale":{"domain":[0.5,1],"nice":false,"zero":false},"axis":{"values":[0.5,0.6,0.7,0.8,0.9,1],"tickCount":6,"format":".1f","title":"AUC"}},"y2":{"field":"h"}}},
    {"data":{"name":"d"},"transform":[{"filter":"datum.p=='Ae'"}],"mark":{"type":"line","clip":true,"strokeWidth":1.8},"encoding":{"x":{"field":"x","type":"quantitative"},"y":{"field":"m","type":"quantitative"},"color":{"datum":"External Validation AUC","scale":{"range":["#ff3030"]},"legend":{"title":null}}}},
    {"data":{"values":[{"b":0.5}]},"mark":{"type":"rule","color":"#9a9a9a","strokeWidth":2.2},"encoding":{"y":{"field":"b","type":"quantitative"}}}
   ]}
  ]},
  {"title":{"text":"B","orient":"right","anchor":"start","angle":0,"align":"left","baseline":"top","font":"Liberation Serif","fontWeight":"bold","fontSize":26,"color":"black","offset":0,"dx":-18.5,"dy":-10.3},
   "spacing":9,"resolve":{"scale":{"color":"independent"},"legend":{"color":"independent"}},"vconcat":[
   {"width":365,"height":114,"title":"Validation AUC vs dataset size (XGBoost)","layer":[
    {"data":{"name":"d"},"transform":[{"filter":"datum.p=='Bc'"}],"mark":{"type":"area","clip":true,"color":"#ececec"},"encoding":{"x":{"field":"x","type":"quantitative","scale":{"domain":[0,1],"nice":false},"axis":{"values":[0,0.2,0.4,0.6,0.8,1],"tickCount":6,"format":".1f","title":null}},"y":{"field":"l","type":"quantitative","scale":{"domain":[0.5,1],"nice":false,"zero":false},"axis":{"values":[0.5,0.6,0.7,0.8,0.9,1],"tickCount":6,"format":".1f","title":"AUC"}},"y2":{"field":"h"}}},
    {"data":{"name":"d"},"transform":[{"filter":"datum.p=='Bc'"}],"mark":{"type":"line","clip":true,"strokeWidth":1.6},"encoding":{"x":{"field":"x","type":"quantitative"},"y":{"field":"m","type":"quantitative"},"color":{"datum":"Cross Validation mean AUC","scale":{"range":["#35355f"]},"legend":{"title":null}}}}
   ]},
   {"width":365,"height":114,"layer":[
    {"data":{"name":"d"},"transform":[{"filter":"datum.p=='Be'"}],"mark":{"type":"area","clip":true,"color":"#ffe0e0"},"encoding":{"x":{"field":"x","type":"quantitative","scale":{"domain":[0,1],"nice":false},"axis":{"values":[0,0.2,0.4,0.6,0.8,1],"tickCount":6,"format":".1f","title":"Dataset Size"}},"y":{"field":"l","type":"quantitative","scale":{"domain":[0.5,1],"nice":false,"zero":false},"axis":{"values":[0.5,0.6,0.7,0.8,0.9,1],"tickCount":6,"format":".1f","title":"AUC"}},"y2":{"field":"h"}}},
    {"data":{"name":"d"},"transform":[{"filter":"datum.p=='Be'"}],"mark":{"type":"line","clip":true,"strokeWidth":1.8},"encoding":{"x":{"field":"x","type":"quantitative"},"y":{"field":"m","type":"quantitative"},"color":{"datum":"External Validation AUC","scale":{"range":["#ff3030"]},"legend":{"title":null}}}}
   ]}
  ]}
 ],"spacing":40,"resolve":{"scale":{"color":"independent"},"legend":{"color":"independent"}}},
 {"hconcat":[
  {"title":{"text":"C","orient":"left","anchor":"end","angle":0,"align":"right","baseline":"top","font":"Liberation Serif","fontWeight":"bold","fontSize":26,"color":"black","offset":0,"dx":30.5,"dy":-3.3},
   "spacing":9,"resolve":{"scale":{"color":"independent"},"legend":{"color":"independent"}},"vconcat":[
   {"width":365,"height":114,"title":"Validation AUC vs dataset size (NN 100-20-2)","layer":[
    {"data":{"name":"d"},"transform":[{"filter":"datum.p=='Cc'"}],"mark":{"type":"area","clip":true,"color":"#ececec"},"encoding":{"x":{"field":"x","type":"quantitative","scale":{"domain":[0,1],"nice":false},"axis":{"values":[0,0.2,0.4,0.6,0.8,1],"tickCount":6,"format":".1f","title":null}},"y":{"field":"l","type":"quantitative","scale":{"domain":[0.5,1],"nice":false,"zero":false},"axis":{"values":[0.5,0.6,0.7,0.8,0.9,1],"tickCount":6,"format":".1f","title":"AUC"}},"y2":{"field":"h"}}},
    {"data":{"name":"d"},"transform":[{"filter":"datum.p=='Cc'"}],"mark":{"type":"line","clip":true,"strokeWidth":1.6},"encoding":{"x":{"field":"x","type":"quantitative"},"y":{"field":"m","type":"quantitative"},"color":{"datum":"Cross Validation mean AUC","scale":{"range":["#35355f"]},"legend":{"title":null}}}}
   ]},
   {"width":365,"height":114,"layer":[
    {"data":{"name":"d"},"transform":[{"filter":"datum.p=='Ce'"}],"mark":{"type":"area","clip":true,"color":"#ffe0e0"},"encoding":{"x":{"field":"x","type":"quantitative","scale":{"domain":[0,1],"nice":false},"axis":{"values":[0,0.2,0.4,0.6,0.8,1],"tickCount":6,"format":".1f","title":"Dataset Size"}},"y":{"field":"l","type":"quantitative","scale":{"domain":[0.5,1],"nice":false,"zero":false},"axis":{"values":[0.5,0.6,0.7,0.8,0.9,1],"tickCount":6,"format":".1f","title":"AUC"}},"y2":{"field":"h"}}},
    {"data":{"name":"d"},"transform":[{"filter":"datum.p=='Ce'"}],"mark":{"type":"line","clip":true,"strokeWidth":1.8},"encoding":{"x":{"field":"x","type":"quantitative"},"y":{"field":"m","type":"quantitative"},"color":{"datum":"External Validation AUC","scale":{"range":["#ff3030"]},"legend":{"title":null}}}}
   ]}
  ]},
  {"title":{"text":"D","orient":"right","anchor":"start","angle":0,"align":"left","baseline":"top","font":"Liberation Serif","fontWeight":"bold","fontSize":26,"color":"black","offset":0,"dx":-19.5,"dy":-6.3},
   "spacing":9,"resolve":{"scale":{"color":"independent"},"legend":{"color":"independent"}},"vconcat":[
   {"width":365,"height":114,"title":"Validation AUC vs dataset size (NN 50-10-2)","layer":[
    {"data":{"name":"d"},"transform":[{"filter":"datum.p=='Dc'"}],"mark":{"type":"area","clip":true,"color":"#ececec"},"encoding":{"x":{"field":"x","type":"quantitative","scale":{"domain":[0,1],"nice":false},"axis":{"values":[0,0.2,0.4,0.6,0.8,1],"tickCount":6,"format":".1f","title":null}},"y":{"field":"l","type":"quantitative","scale":{"domain":[0.5,1],"nice":false,"zero":false},"axis":{"values":[0.5,0.6,0.7,0.8,0.9,1],"tickCount":6,"format":".1f","title":"AUC"}},"y2":{"field":"h"}}},
    {"data":{"name":"d"},"transform":[{"filter":"datum.p=='Dc'"}],"mark":{"type":"line","clip":true,"strokeWidth":1.6},"encoding":{"x":{"field":"x","type":"quantitative"},"y":{"field":"m","type":"quantitative"},"color":{"datum":"Cross Validation mean AUC","scale":{"range":["#35355f"]},"legend":{"title":null}}}}
   ]},
   {"width":365,"height":114,"layer":[
    {"data":{"name":"d"},"transform":[{"filter":"datum.p=='De'"}],"mark":{"type":"area","clip":true,"color":"#ffe0e0"},"encoding":{"x":{"field":"x","type":"quantitative","scale":{"domain":[0,1],"nice":false},"axis":{"values":[0,0.2,0.4,0.6,0.8,1],"tickCount":6,"format":".1f","title":"Dataset Size"}},"y":{"field":"l","type":"quantitative","scale":{"domain":[0.5,1],"nice":false,"zero":false},"axis":{"values":[0.5,0.6,0.7,0.8,0.9,1],"tickCount":6,"format":".1f","title":"AUC"}},"y2":{"field":"h"}}},
    {"data":{"name":"d"},"transform":[{"filter":"datum.p=='De'"}],"mark":{"type":"line","clip":true,"strokeWidth":1.8},"encoding":{"x":{"field":"x","type":"quantitative"},"y":{"field":"m","type":"quantitative"},"color":{"datum":"External Validation AUC","scale":{"range":["#ff3030"]},"legend":{"title":null}}}}
   ]}
  ]}
 ],"spacing":40,"resolve":{"scale":{"color":"independent"},"legend":{"color":"independent"}}}
 ]},
{"title":{"text":"E","orient":"right","anchor":"start","angle":0,"align":"left","baseline":"top","font":"Liberation Serif","fontWeight":"bold","fontSize":26,"color":"black","offset":0,"dx":-16,"dy":2.7},
 "spacing":9,"resolve":{"scale":{"color":"independent"},"legend":{"color":"independent"}},"vconcat":[
   {"width":365,"height":114,"title":"Validation AUC vs dataset size (NN 50-20-10-2)","layer":[
    {"data":{"name":"d"},"transform":[{"filter":"datum.p=='Ec'"}],"mark":{"type":"area","clip":true,"color":"#ececec"},"encoding":{"x":{"field":"x","type":"quantitative","scale":{"domain":[0,1],"nice":false},"axis":{"values":[0,0.2,0.4,0.6,0.8,1],"tickCount":6,"format":".1f","title":null}},"y":{"field":"l","type":"quantitative","scale":{"domain":[0.5,1],"nice":false,"zero":false},"axis":{"values":[0.5,0.6,0.7,0.8,0.9,1],"tickCount":6,"format":".1f","title":"AUC"}},"y2":{"field":"h"}}},
    {"data":{"name":"d"},"transform":[{"filter":"datum.p=='Ec'"}],"mark":{"type":"line","clip":true,"strokeWidth":1.6},"encoding":{"x":{"field":"x","type":"quantitative"},"y":{"field":"m","type":"quantitative"},"color":{"datum":"Cross Validation mean AUC","scale":{"range":["#35355f"]},"legend":{"title":null}}}}
   ]},
   {"width":365,"height":114,"layer":[
    {"data":{"name":"d"},"transform":[{"filter":"datum.p=='Ee'"}],"mark":{"type":"area","clip":true,"color":"#ffe0e0"},"encoding":{"x":{"field":"x","type":"quantitative","scale":{"domain":[0,1],"nice":false},"axis":{"values":[0,0.2,0.4,0.6,0.8,1],"tickCount":6,"format":".1f","title":"Dataset Size"}},"y":{"field":"l","type":"quantitative","scale":{"domain":[0.5,1],"nice":false,"zero":false},"axis":{"values":[0.5,0.6,0.7,0.8,0.9,1],"tickCount":6,"format":".1f","title":"AUC"}},"y2":{"field":"h"}}},
    {"data":{"name":"d"},"transform":[{"filter":"datum.p=='Ee'"}],"mark":{"type":"line","clip":true,"strokeWidth":1.8},"encoding":{"x":{"field":"x","type":"quantitative"},"y":{"field":"m","type":"quantitative"},"color":{"datum":"External Validation AUC","scale":{"range":["#ff3030"]},"legend":{"title":null}}}}
   ]}
  ]}
],
"config":{
 "font":"DejaVu Sans",
 "view":{"stroke":"black","strokeWidth":0.8},
 "axis":{"grid":false,"domainColor":"black","domainWidth":0.8,"tickColor":"black","tickSize":3.5,"tickWidth":0.8,"labelFontSize":9.4,"labelColor":"#222222","labelFont":"DejaVu Sans","labelPadding":2,"labelOverlap":false,"labelFlush":false,"titleFontSize":9.4,"titleFontWeight":"normal","titleFont":"DejaVu Sans","titleColor":"#222222","titlePadding":4},
 "title":{"fontSize":11,"fontWeight":"normal","font":"DejaVu Sans","offset":-2,"color":"#222222"},
 "legend":{"orient":"bottom-right","offset":5,"strokeColor":"#cccccc","fillColor":"white","cornerRadius":3,"padding":1.5,"labelFontSize":9.2,"labelFont":"DejaVu Sans","labelColor":"#222222","symbolType":"stroke","symbolStrokeWidth":2,"symbolSize":400,"labelOffset":8}
}
}
